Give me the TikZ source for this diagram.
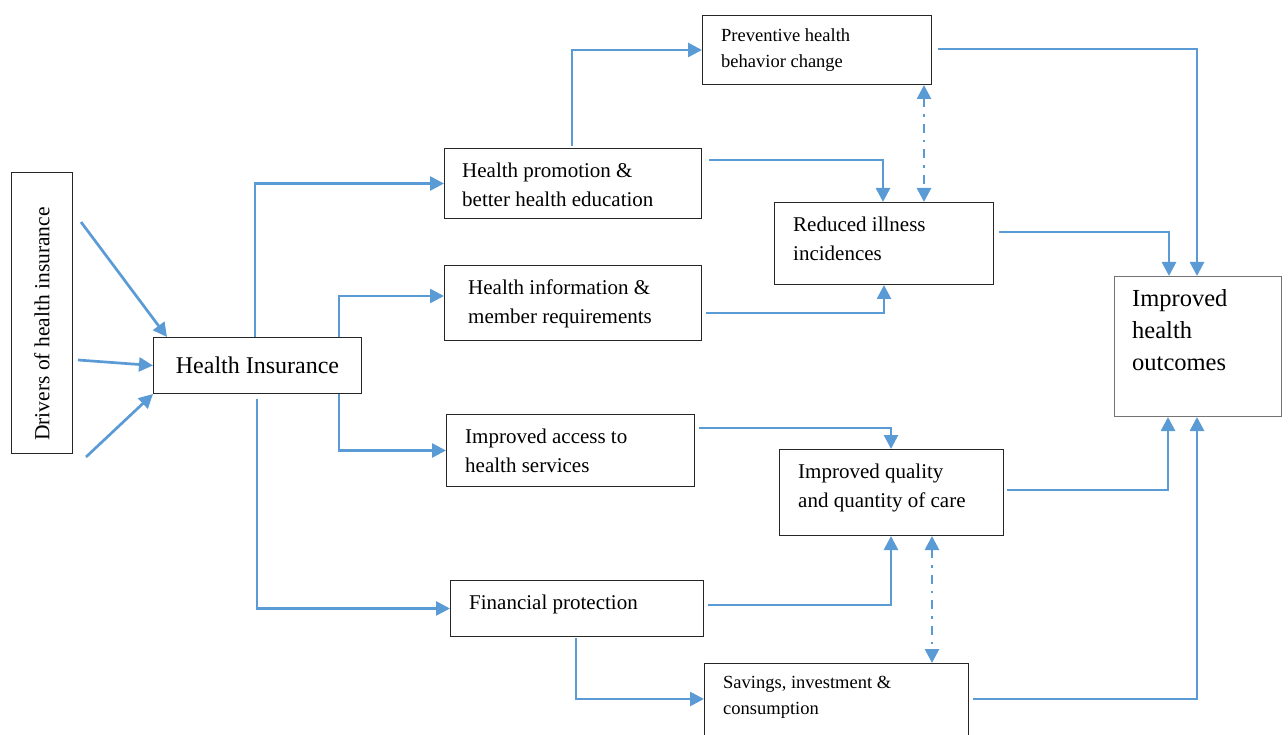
\documentclass[tikz,border=0pt]{standalone}
\usepackage{fontspec}
\setmainfont{Liberation Serif}
\usetikzlibrary{calc,arrows.meta}
\definecolor{lblue}{HTML}{5B9BD5}
\tikzset{
  box/.style={draw=black!85, line width=1pt, inner sep=0pt, anchor=north west},
  txt/.style={inner sep=0pt, anchor=north west, align=left, font=\fontsize{21}{29}\selectfont},
  smalltxt/.style={inner sep=0pt, anchor=north west, align=left, font=\fontsize{18.5}{26}\selectfont},
  arr/.style={draw=lblue, line width=2.7pt, -{Triangle[length=14pt,width=14pt]}},
  dbl/.style={draw=lblue, line width=2.7pt, {Triangle[length=14pt,width=14pt]}-{Triangle[length=14pt,width=14pt]}, dash pattern=on 9pt off 7pt on 2.5pt off 7pt}
}
\begin{document}
\begin{tikzpicture}[x=1pt,y=-1pt]
\useasboundingbox (0,0) rectangle (1288,735);
% boxes
\node[box, minimum width=61pt, minimum height=281pt] (drv) at (11,172) {};
\node[inner sep=0pt, rotate=90, font=\fontsize{21.5}{29}\selectfont] (drvt) at (42,324) {Drivers of health insurance};
\node[box, minimum width=208pt, minimum height=56pt, font=\fontsize{24}{29}\selectfont] (hi) at (153,337) {Health Insurance};
\node[box, minimum width=257pt, minimum height=70pt] (hp) at (444,148) {};
\node[txt] (hpt) at (462,162.5) {Health promotion \&\\better health education};
\node[box, minimum width=257pt, minimum height=75pt] (hinfo) at (444,265) {};
\node[txt] (hinfot) at (468,279.5) {Health information \&\\member requirements};
\node[box, minimum width=248pt, minimum height=72pt] (acc) at (446,414) {};
\node[txt] (acct) at (465,428.5) {Improved access to\\health services};
\node[box, minimum width=253pt, minimum height=56pt] (fp) at (450,580) {};
\node[txt] (fpt) at (469,594.5) {Financial protection};
\node[box, minimum width=229pt, minimum height=69pt] (prev) at (702,15) {};
\node[smalltxt] (prevt) at (721,28) {Preventive health\\behavior change};
\node[box, minimum width=219pt, minimum height=82pt] (red) at (774,202) {};
\node[txt] (redt) at (793,216.5) {Reduced illness\\incidences};
\node[box, minimum width=224pt, minimum height=86pt] (qual) at (779,449) {};
\node[txt] (qualt) at (798,463.5) {Improved quality\\and quantity of care};
\node[box, minimum width=264pt, minimum height=80pt] (sav) at (704,663) {};
\node[smalltxt] (savt) at (723,676) {Savings, investment \&\\consumption};
\node[box, draw=black!55, minimum width=167pt, minimum height=140pt] (out) at (1114,276) {};
\node[inner sep=0pt, anchor=north west, align=left, font=\fontsize{24.5}{32}\selectfont] (outt) at (1132,289) {Improved\\health\\outcomes};
% drivers -> HI
\draw[arr] ($(drv.north east)+(8,50)$) -- ($(hi.north west)+(14,0)$);
\draw[arr] ($(drv.north east)+(5,188)$) -- (hi.west);
\draw[arr] ($(drv.south east)+(13,3)$) -- (hi.south west);
% HI -> second column
\draw[arr] ($(hi.north west)+(102,0)$) |- (hp.west);
\draw[arr] ($(hi.north east)+(-23,0)$) |- ($(hinfo.north west)+(0,31)$);
\draw[arr] ($(hi.south east)+(-23,0)$) |- (acc.west);
\draw[arr] ($(hi.south west)+(104,5)$) |- (fp.west);
% second column -> third
\draw[arr] ($(hp.north west)+(128,-2)$) |- (prev.west);
\draw[arr] ($(hp.north east)+(7,12)$) -| ($(red.north west)+(109,0)$);
\draw[arr] ($(hinfo.north east)+(4,48)$) -| ($(red.south west)+(110,0)$);
\draw[arr] ($(acc.north east)+(4,14)$) -| ($(qual.north west)+(112,0)$);
\draw[arr] ($(fp.north east)+(4,25)$) -| ($(qual.south west)+(112,0)$);
\draw[arr] ($(fp.south west)+(126,1)$) |- ($(sav.north west)+(0,36)$);
% dash-dot links
\draw[dbl] ($(prev.south west)+(222,0)$) -- ($(red.north west)+(150,0)$);
\draw[dbl] ($(qual.south west)+(153,0)$) -- ($(sav.north west)+(228,0)$);
% -> outcomes
\draw[arr] ($(prev.north east)+(6,34)$) -| ($(out.north west)+(83,0)$);
\draw[arr] ($(red.north east)+(5,30)$) -| ($(out.north west)+(55,0)$);
\draw[arr] ($(qual.north east)+(3,41)$) -| ($(out.south west)+(54,0)$);
\draw[arr] ($(sav.north east)+(4,36)$) -| ($(out.south west)+(83,0)$);
\end{tikzpicture}
\end{document}
